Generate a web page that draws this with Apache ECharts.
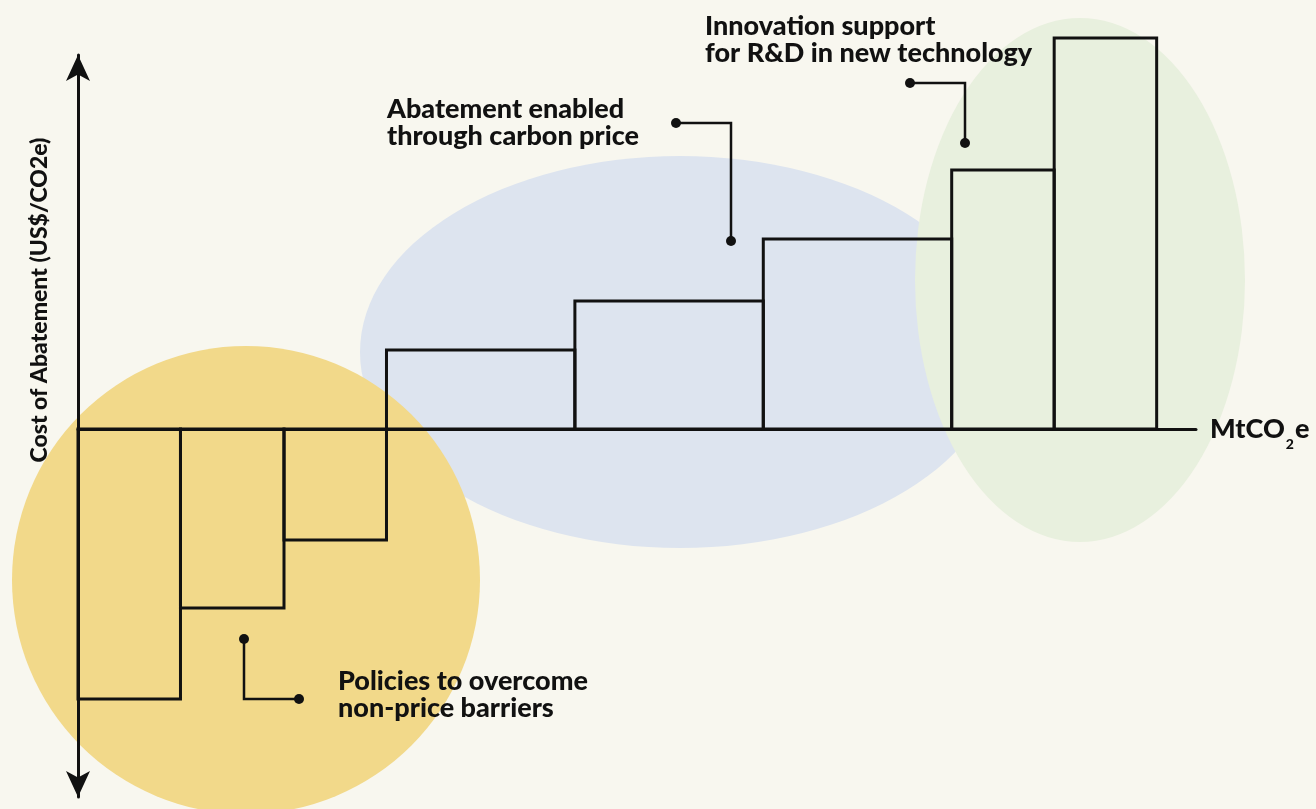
<!DOCTYPE html>
<html>
<head>
<meta charset="utf-8">
<script src="https://cdn.jsdelivr.net/npm/echarts@6/dist/echarts.min.js"></script>
<style>
  html, body { margin: 0; padding: 0; background: #f8f7ef; }
  #chart { width: 1316px; height: 809px; }
</style>
</head>
<body>
<div id="chart"></div>
<script>
// abatement measures: width in MtCO2e, cost in US$/tCO2e
const widths = [9.9, 10, 9.9, 18.2, 18.2, 18.2, 9.9, 9.9];
const costs = [-27, -17.9, -11.1, 7.9, 12.8, 19, 25.9, 39.1];

const yTitle = "Cost of Abatement (US$/CO2e)";
const noteCarbon = "Abatement enabled\nthrough carbon price";
const noteInnov = "Innovation support\nfor R&D in new technology";
const notePolicy = "Policies to overcome\nnon-price barriers";

let d = document;
window.onload = (e) => {
  let chart = echarts.init(d.getElementById("chart"));

  // x start / end of each block
  let rows = [];
  let acc = 0;
  widths.forEach((w, i) => {
    rows.push([acc, acc + w, costs[i]]);
    acc += w;
  });

  const font = "Lato, 'Open Sans', sans-serif";
  const ink = "#111";

  function dot(x, y) {
    return { type: "circle", z: 10, shape: { cx: x, cy: y, r: 5 }, style: { fill: ink } };
  }
  function leader(pts) {
    return { type: "polyline", z: 10, shape: { points: pts }, style: { stroke: ink, lineWidth: 2.5, fill: null } };
  }
  function blob(cx, cy, rx, ry, color) {
    return { type: "circle", z: -10, x: cx, y: cy, scaleX: rx / ry, scaleY: 1,
      shape: { cx: 0, cy: 0, r: ry }, style: { fill: color } };
  }
  function note(x, y, txt) {
    return { type: "text", z: 10, x: x, y: y,
      style: { text: txt, fill: ink, font: "900 27px " + font, lineHeight: 27,
        textAlign: "left", textVerticalAlign: "middle" } };
  }

  chart.setOption({
    backgroundColor: "#f8f7ef",
    animation: false,
    grid: { left: 78, right: 120, top: 55, bottom: 12 },
    xAxis: {
      type: "value", min: 0, max: 108,
      axisLine: { onZero: true, lineStyle: { color: ink, width: 3 } },
      axisTick: { show: false }, axisLabel: { show: false }, splitLine: { show: false },
      name: "{a|MtCO}{b|2}{a|e}",
      nameLocation: "end", nameGap: 14,
      nameTextStyle: {
        rich: {
          a: { fontFamily: font, fontWeight: 900, fontSize: 27, color: ink },
          b: { fontFamily: font, fontWeight: 900, fontSize: 14, color: ink, padding: [30, 1, 0, 1] }
        }
      }
    },
    yAxis: {
      type: "value", min: -36.8, max: 37.4,
      axisLine: { lineStyle: { color: ink, width: 3 }, symbol: ["arrow", "arrow"], symbolSize: [18, 26] },
      axisTick: { show: false }, axisLabel: { show: false }, splitLine: { show: false }
    },
    graphic: [
      blob(680, 352, 320, 196, "#dde4ef"),
      blob(1080, 280, 165, 262, "#e8f0de"),
      blob(246, 580, 234, 234, "#f2d98a"),
      { type: "text", z: 10, x: 40, y: 300, rotation: Math.PI / 2,
        style: { text: yTitle, fill: ink, font: "900 23px " + font, textAlign: "center", textVerticalAlign: "middle" } },
      note(387, 123, noteCarbon),
      note(705, 40, noteInnov),
      note(338, 695, notePolicy),
      leader([[676, 123], [731, 123], [731, 241]]), dot(676, 123), dot(731, 241),
      leader([[910, 83], [965, 83], [965, 143]]), dot(910, 83), dot(965, 143),
      leader([[244, 639], [244, 699], [299, 699]]), dot(244, 639), dot(299, 699)
    ],
    series: [{
      type: "custom",
      data: rows,
      encode: { x: [0, 1], y: 2 },
      renderItem: (params, api) => {
        let p0 = api.coord([api.value(0), 0]);
        let p1 = api.coord([api.value(1), api.value(2)]);
        return {
          type: "rect",
          shape: { x: p0[0], y: Math.min(p0[1], p1[1]), width: p1[0] - p0[0], height: Math.abs(p1[1] - p0[1]) },
          style: { fill: null, stroke: ink, lineWidth: 3 }
        };
      }
    }]
  });
};
</script>
</body>
</html>
